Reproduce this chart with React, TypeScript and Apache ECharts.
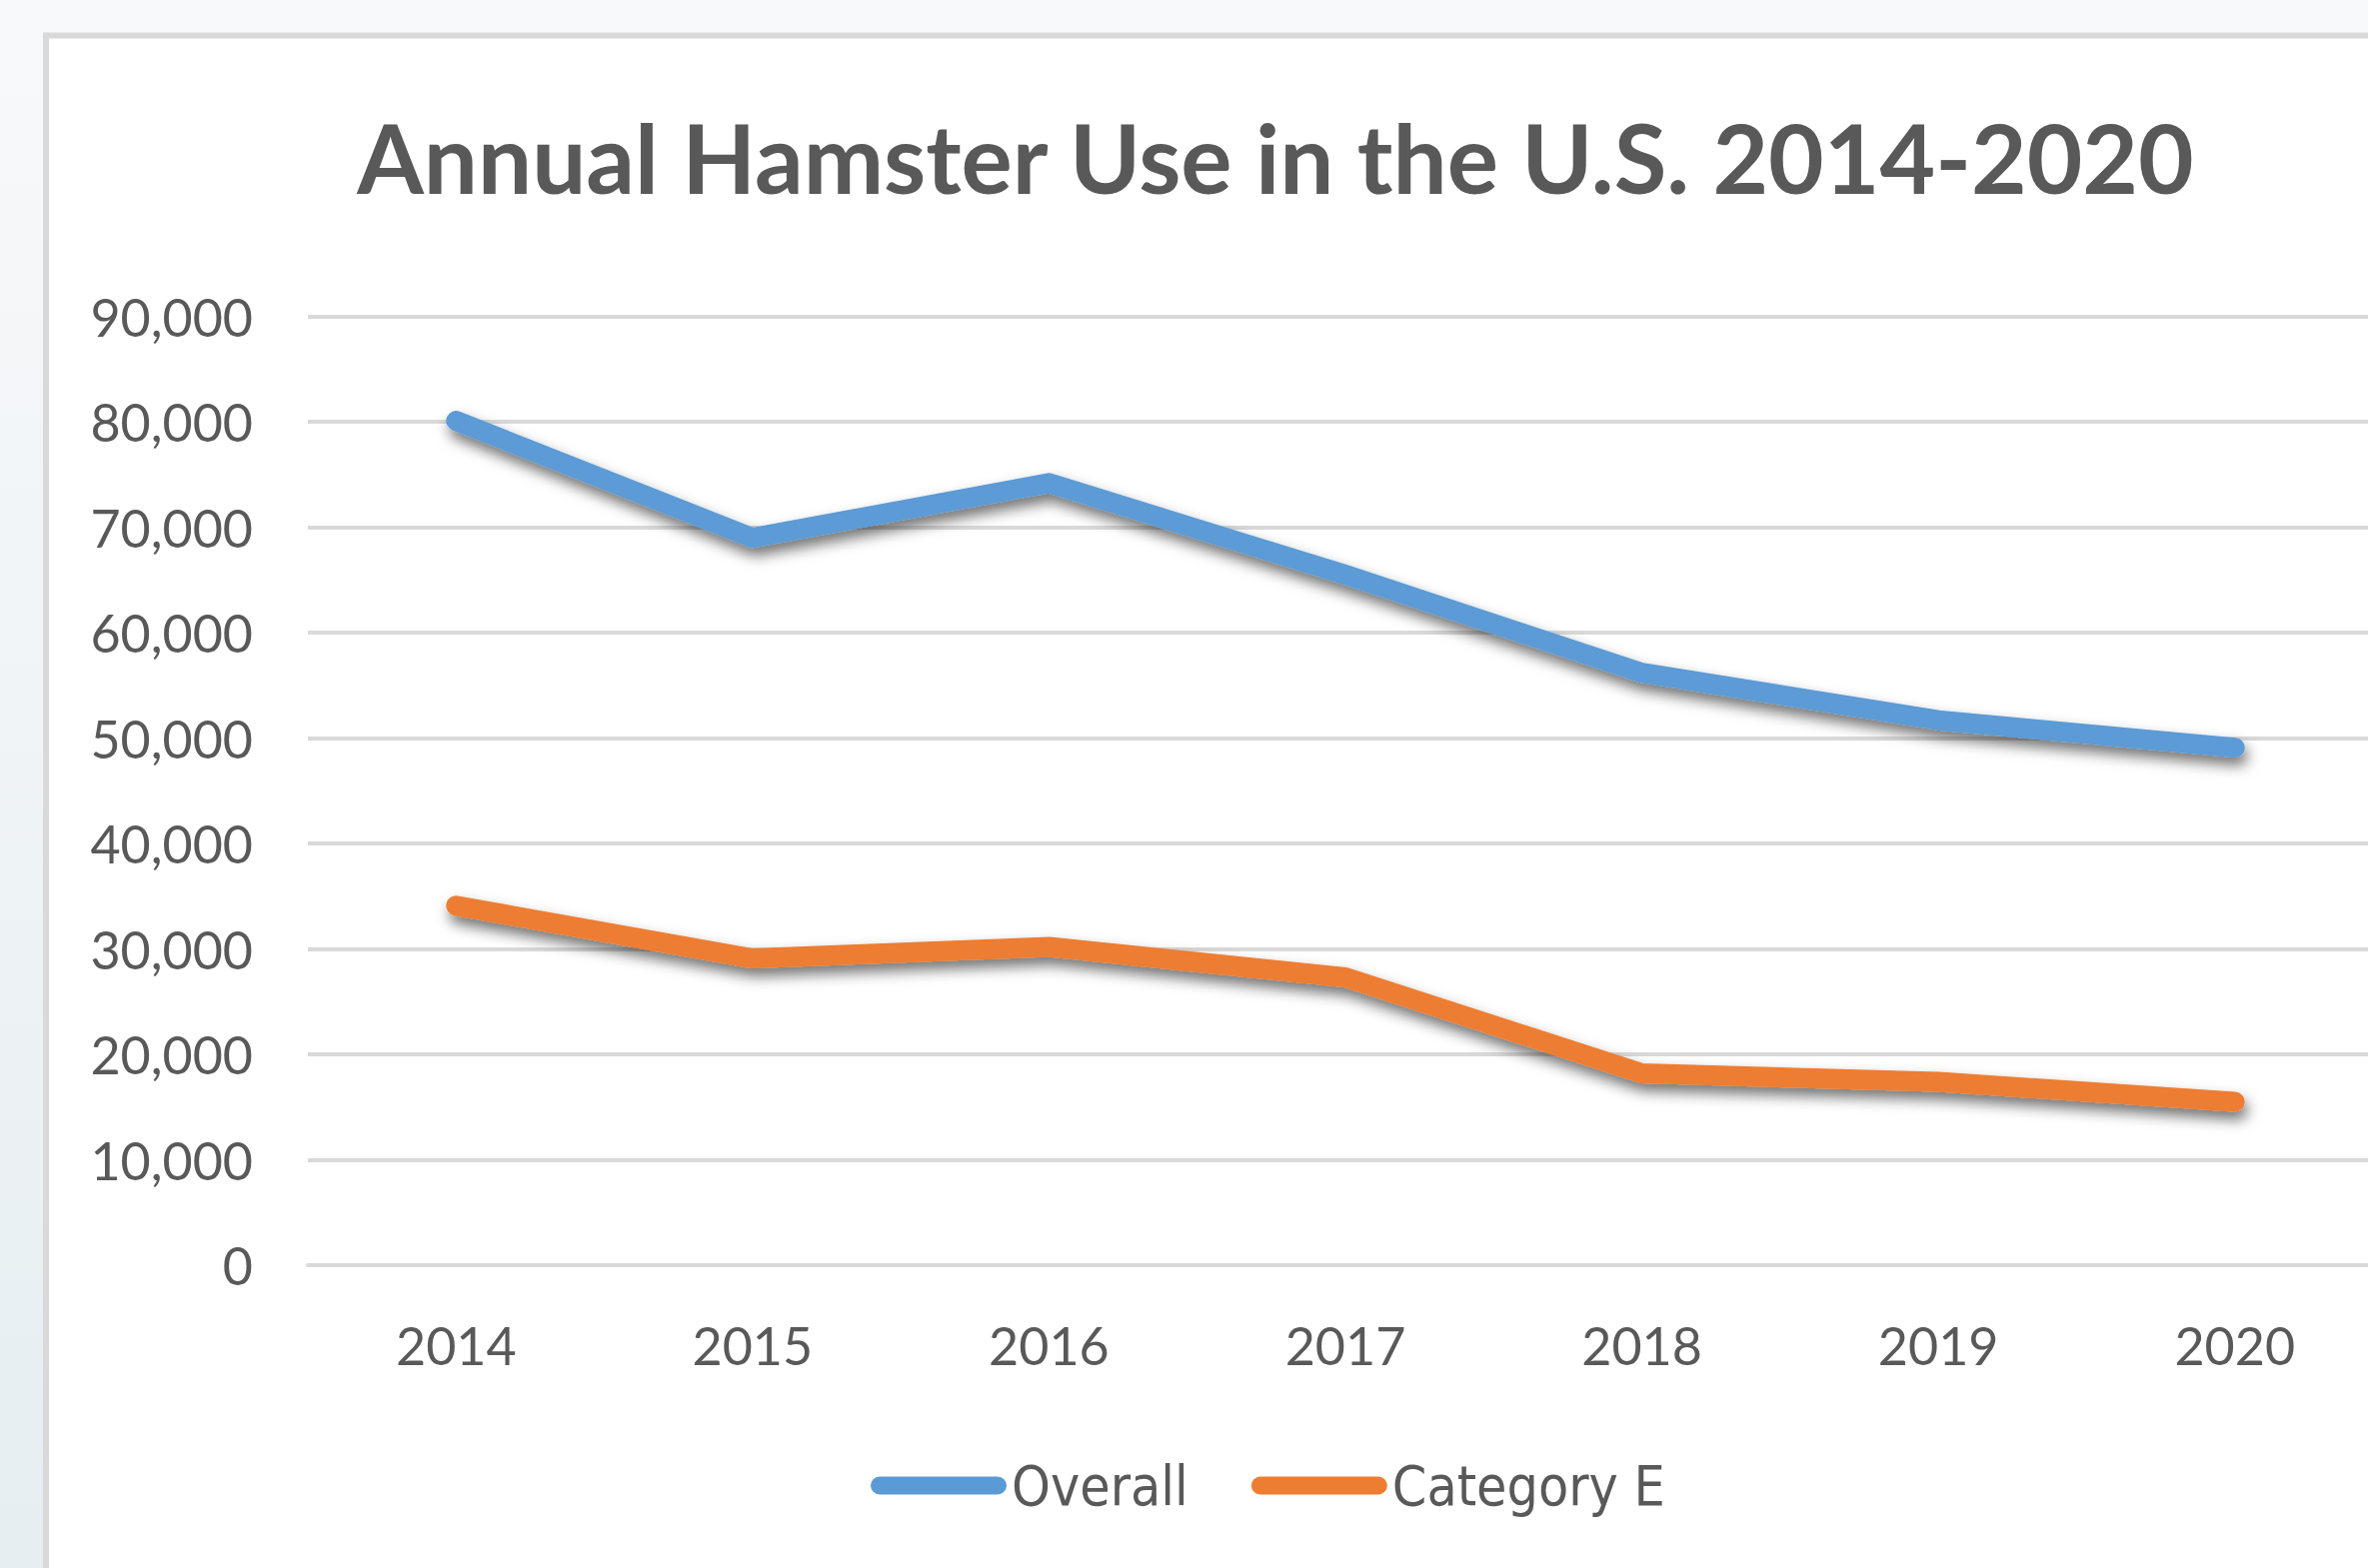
import React, { useEffect, useRef } from "react";
import * as echarts from "echarts";

const categories = ["2014", "2015", "2016", "2017", "2018", "2019", "2020"];
const overallValues = [80100, 69000, 74200, 65500, 56200, 51700, 49100];
const categoryEValues = [34100, 29100, 30200, 27300, 18200, 17400, 15500];
const yTicks = { min: 0, max: 90000, interval: 10000 };
const titleText = "Annual Hamster Use in the U.S. 2014-2020";
const seriesNames = ["Overall", "Category E"];

const TEXT = "#595959";
const GRID = "#d9d9d9";
const BLUE = "#5B9BD5";
const ORANGE = "#ED7D31";

export default function App() {
  const ref = useRef<HTMLDivElement>(null);
  useEffect(() => {
    document.body.style.margin = "0";
    document.body.style.overflow = "hidden";
    const chart = echarts.init(ref.current!, null, { renderer: "svg" });
    const shadow = {
      shadowColor: "rgba(0,0,0,0.55)",
      shadowBlur: 14,
      shadowOffsetX: 3,
      shadowOffsetY: 8,
    };
    const capsule = "path://M9,0 H127 A9,9 0 0 1 127,18 H9 A9,9 0 0 1 9,0 Z";
    chart.setOption({
      animation: false,
      graphic: [
        {
          type: "rect",
          z: -10,
          silent: true,
          shape: { x: 46, y: 35.5, width: 2700, height: 1700 },
          style: { fill: "#ffffff", stroke: GRID, lineWidth: 6 },
        },
      ],
      title: {
        text: titleText,
        left: 1271,
        top: 103,
        textAlign: "center",
        textStyle: {
          fontFamily: "Lato",
          fontWeight: "bold",
          fontSize: 96,
          color: TEXT,
        },
      },
      legend: {
        left: 866,
        top: 1454,
        itemWidth: 136,
        itemHeight: 18,
        itemGap: 63,
        data: [
          { name: seriesNames[0], icon: capsule },
          { name: seriesNames[1], icon: capsule },
        ],
        textStyle: {
          fontFamily: "'Liberation Sans Narrow', 'DejaVu Sans Condensed', 'Roboto', sans-serif",
          fontSize: 55,
          color: TEXT,
        },
      },
      grid: { left: 308, top: 316.7, width: 2076, height: 949.3, containLabel: false },
      xAxis: {
        type: "category",
        data: categories,
        boundaryGap: true,
        axisLine: { show: true, lineStyle: { color: GRID, width: 4 } },
        axisTick: { show: false },
        axisLabel: {
          margin: 54,
          fontFamily: "Lato",
          fontSize: 52,
          color: TEXT,
        },
      },
      yAxis: {
        type: "value",
        min: yTicks.min,
        max: yTicks.max,
        interval: yTicks.interval,
        axisLine: { show: false },
        axisTick: { show: false },
        splitLine: { lineStyle: { color: GRID, width: 4 } },
        axisLabel: {
          margin: 55,
          fontFamily: "Lato",
          fontSize: 52,
          color: TEXT,
          formatter: (v: number) => v.toLocaleString("en-US"),
        },
      },
      series: [
        {
          name: seriesNames[0],
          type: "line",
          data: overallValues,
          symbol: "none",
          color: BLUE,
          lineStyle: { color: BLUE, width: 20, cap: "round", join: "round", ...shadow },
        },
        {
          name: seriesNames[1],
          type: "line",
          data: categoryEValues,
          symbol: "none",
          color: ORANGE,
          lineStyle: { color: ORANGE, width: 20, cap: "round", join: "round", ...shadow },
        },
      ],
    });
    return () => chart.dispose();
  }, []);
  return (
    <div
      style={{
        position: "fixed",
        left: 0,
        top: 0,
        width: 2369,
        height: 1569,
        overflow: "hidden",
        background: "linear-gradient(to bottom, #f8f9fa, #e6eef1)",
      }}
    >
      <div ref={ref} style={{ width: 2500, height: 1569 }} />
    </div>
  );
}
